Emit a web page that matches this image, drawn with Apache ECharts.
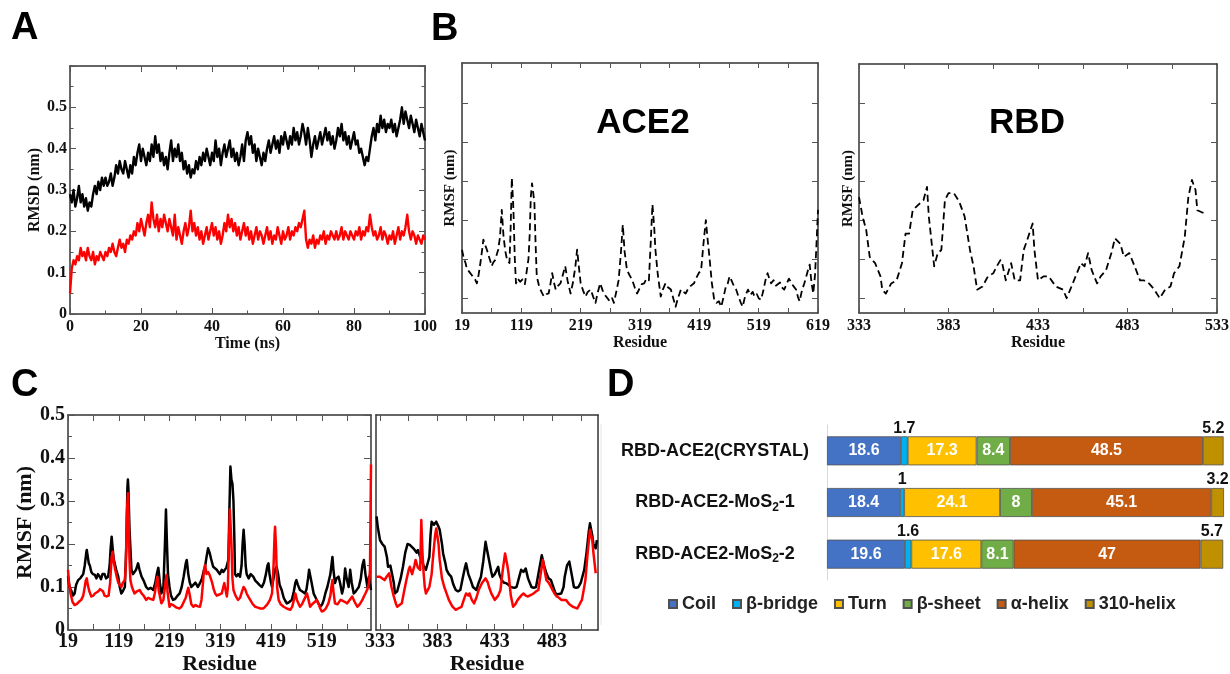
<!DOCTYPE html>
<html><head><meta charset="utf-8">
<script src="https://cdn.jsdelivr.net/npm/echarts@6/dist/echarts.min.js"></script>
<style>html,body{margin:0;padding:0;background:#fff}#c{width:1230px;height:674px}</style>
</head><body><div id="c"></div><script>
// ---------- Panel A: RMSD (nm) vs time, sampled every 0.5 ns ----------
const timeStepNs = 0.5;
const rmsdBlack = [
0.29,0.27,0.30,0.26,0.28,0.31,0.27,0.29,0.26,0.28,
0.25,0.27,0.26,0.29,0.31,0.29,0.32,0.30,0.33,0.31,
0.33,0.31,0.32,0.34,0.31,0.33,0.36,0.34,0.37,0.35,
0.34,0.37,0.35,0.33,0.36,0.34,0.38,0.36,0.39,0.41,
0.37,0.40,0.38,0.36,0.39,0.37,0.41,0.38,0.43,0.39,
0.41,0.37,0.39,0.36,0.38,0.35,0.39,0.42,0.37,0.40,
0.38,0.41,0.37,0.39,0.35,0.37,0.34,0.36,0.33,0.35,
0.34,0.37,0.35,0.38,0.36,0.39,0.37,0.40,0.38,0.36,
0.39,0.37,0.42,0.38,0.40,0.36,0.39,0.41,0.38,0.40,
0.42,0.38,0.40,0.37,0.39,0.36,0.38,0.41,0.37,0.42,
0.44,0.41,0.43,0.39,0.41,0.37,0.40,0.38,0.36,0.39,
0.37,0.40,0.42,0.39,0.41,0.43,0.40,0.42,0.39,0.43,
0.41,0.44,0.42,0.40,0.43,0.41,0.45,0.42,0.44,0.41,
0.43,0.46,0.44,0.41,0.45,0.42,0.38,0.41,0.43,0.40,
0.42,0.44,0.41,0.43,0.45,0.42,0.44,0.41,0.43,0.40,
0.42,0.45,0.43,0.46,0.42,0.44,0.41,0.43,0.40,0.42,
0.44,0.41,0.42,0.39,0.40,0.38,0.36,0.38,0.37,0.40,
0.43,0.45,0.42,0.46,0.44,0.48,0.45,0.47,0.44,0.46,
0.45,0.47,0.44,0.46,0.43,0.45,0.47,0.50,0.46,0.49,
0.47,0.45,0.48,0.46,0.44,0.47,0.45,0.43,0.46,0.44,
0.42];
const rmsdRed = [
0.05,0.11,0.13,0.12,0.14,0.13,0.16,0.14,0.15,0.13,
0.16,0.14,0.13,0.15,0.12,0.14,0.13,0.15,0.14,0.13,
0.15,0.14,0.16,0.15,0.17,0.15,0.14,0.16,0.18,0.16,
0.17,0.15,0.18,0.17,0.19,0.18,0.20,0.19,0.22,0.20,
0.23,0.21,0.19,0.22,0.24,0.21,0.27,0.23,0.21,0.24,
0.20,0.23,0.21,0.24,0.22,0.20,0.23,0.21,0.19,0.24,
0.18,0.21,0.19,0.17,0.20,0.22,0.19,0.21,0.25,0.20,
0.22,0.19,0.21,0.18,0.20,0.17,0.19,0.21,0.18,0.20,
0.22,0.19,0.21,0.18,0.20,0.17,0.19,0.22,0.20,0.24,
0.21,0.23,0.20,0.22,0.19,0.21,0.18,0.20,0.22,0.19,
0.21,0.18,0.20,0.17,0.19,0.21,0.18,0.20,0.19,0.17,
0.19,0.21,0.18,0.20,0.17,0.19,0.18,0.21,0.19,0.17,
0.20,0.18,0.19,0.21,0.18,0.20,0.19,0.21,0.20,0.22,
0.21,0.23,0.25,0.18,0.16,0.18,0.17,0.19,0.16,0.18,
0.17,0.19,0.18,0.20,0.17,0.19,0.18,0.20,0.19,0.18,
0.20,0.18,0.19,0.21,0.18,0.20,0.19,0.18,0.20,0.19,
0.18,0.20,0.19,0.21,0.18,0.20,0.19,0.21,0.20,0.24,
0.21,0.19,0.20,0.18,0.19,0.21,0.18,0.20,0.19,0.17,
0.19,0.18,0.20,0.17,0.19,0.21,0.18,0.20,0.19,0.21,
0.24,0.20,0.18,0.20,0.19,0.17,0.19,0.18,0.17,0.19,
0.18];
const aXTicks = [0, 100, 20];      // min, max, interval
const aYTicks = [0, 0.6, 0.1];

// ---------- Panel B: RMSF, [residue, nm] ----------
const ace2Rmsf = [[19,0.112],[22,0.101],[25,0.095],[27,0.088],[31,0.084],[35,0.080],[38,0.078],[41,0.074],[44,0.069],[47,0.080],[50,0.095],[53,0.112],[55,0.125],[58,0.118],[61,0.112],[64,0.104],[67,0.097],[69,0.091],[72,0.096],[75,0.099],[78,0.107],[80,0.112],[83,0.128],[86,0.163],[89,0.129],[92,0.110],[95,0.099],[99,0.095],[101,0.140],[103,0.204],[105,0.175],[106,0.155],[108,0.100],[110,0.069],[113,0.075],[117,0.071],[121,0.074],[125,0.068],[128,0.069],[131,0.100],[133,0.130],[135,0.180],[137,0.197],[139,0.185],[141,0.172],[143,0.120],[145,0.078],[149,0.065],[153,0.058],[157,0.052],[161,0.055],[165,0.056],[168,0.068],[171,0.082],[174,0.070],[177,0.061],[181,0.066],[185,0.069],[189,0.080],[193,0.091],[197,0.072],[202,0.056],[206,0.070],[210,0.090],[213,0.112],[216,0.090],[219,0.069],[223,0.060],[227,0.052],[231,0.058],[236,0.061],[240,0.052],[244,0.044],[248,0.058],[252,0.069],[256,0.060],[260,0.054],[264,0.050],[268,0.046],[272,0.050],[275,0.044],[279,0.058],[283,0.073],[287,0.110],[290,0.144],[293,0.110],[297,0.086],[301,0.080],[306,0.073],[310,0.064],[314,0.056],[318,0.062],[322,0.068],[326,0.069],[330,0.075],[334,0.073],[337,0.120],[340,0.170],[343,0.140],[345,0.112],[349,0.080],[354,0.052],[358,0.062],[362,0.069],[366,0.064],[371,0.061],[375,0.050],[379,0.039],[383,0.050],[388,0.061],[392,0.058],[396,0.056],[400,0.062],[405,0.066],[410,0.069],[414,0.076],[418,0.082],[422,0.086],[426,0.120],[430,0.150],[433,0.125],[436,0.103],[440,0.070],[444,0.048],[448,0.044],[452,0.046],[456,0.039],[460,0.052],[464,0.066],[467,0.069],[470,0.078],[473,0.073],[477,0.066],[481,0.061],[485,0.052],[489,0.044],[492,0.039],[496,0.052],[501,0.061],[505,0.054],[509,0.058],[512,0.052],[516,0.055],[519,0.050],[523,0.048],[527,0.060],[531,0.075],[534,0.082],[537,0.075],[540,0.069],[544,0.073],[548,0.066],[551,0.065],[555,0.070],[558,0.064],[562,0.061],[566,0.068],[570,0.075],[573,0.073],[577,0.066],[582,0.061],[585,0.052],[588,0.046],[592,0.060],[596,0.069],[600,0.080],[603,0.088],[605,0.093],[608,0.070],[611,0.056],[614,0.080],[616,0.112],[619,0.163]];
const rbdRmsf = [[333,0.180],[335,0.155],[337,0.138],[339,0.103],[342,0.095],[345,0.078],[346,0.061],[348,0.056],[351,0.069],[354,0.073],[357,0.095],[359,0.133],[361,0.133],[363,0.163],[367,0.172],[369,0.176],[371,0.193],[372,0.155],[375,0.091],[377,0.108],[379,0.112],[381,0.176],[383,0.185],[386,0.185],[389,0.174],[392,0.155],[395,0.112],[397,0.091],[399,0.061],[402,0.065],[405,0.078],[408,0.082],[410,0.091],[412,0.099],[413,0.095],[415,0.073],[418,0.095],[420,0.073],[423,0.073],[425,0.112],[427,0.125],[430,0.146],[431,0.112],[433,0.073],[436,0.078],[439,0.078],[443,0.065],[447,0.061],[449,0.050],[451,0.061],[454,0.078],[457,0.095],[459,0.091],[461,0.108],[463,0.086],[466,0.069],[468,0.078],[471,0.086],[474,0.108],[476,0.127],[479,0.120],[481,0.103],[484,0.108],[487,0.091],[490,0.073],[492,0.073],[495,0.069],[498,0.061],[501,0.050],[504,0.061],[507,0.065],[509,0.082],[512,0.091],[515,0.129],[517,0.180],[519,0.202],[521,0.189],[522,0.163],[526,0.159]];
const ace2XLabels = [19,119,219,319,419,519,619];
const ace2XTicks = [19,69,119,169,219,269,319,369,419,469,519,569,619];
const rbdXLabels = [333,383,433,483,533];
const rbdXTicks = [333,358,383,408,433,458,483,508,533];
const bYTicks = [0.05,0.1,0.15,0.2,0.25,0.3];

// ---------- Panel C: RMSF comparison ----------
const cAce2Black = [[19,0.125],[22,0.10],[26,0.09],[29,0.08],[32,0.085],[35,0.105],[39,0.116],[43,0.12],[46,0.125],[49,0.13],[52,0.15],[55,0.18],[56,0.186],[58,0.17],[60,0.155],[62,0.15],[65,0.135],[68,0.13],[72,0.128],[75,0.12],[78,0.13],[81,0.125],[84,0.118],[87,0.13],[91,0.13],[94,0.12],[98,0.124],[101,0.15],[103,0.19],[105,0.217],[107,0.19],[109,0.165],[111,0.163],[114,0.14],[118,0.124],[121,0.10],[124,0.085],[127,0.09],[131,0.10],[134,0.2],[136,0.33],[137,0.35],[138,0.33],[140,0.24],[142,0.19],[144,0.14],[147,0.13],[150,0.135],[153,0.14],[157,0.155],[160,0.14],[164,0.124],[168,0.115],[173,0.10],[177,0.095],[182,0.098],[187,0.093],[191,0.11],[194,0.13],[197,0.145],[200,0.11],[203,0.085],[207,0.1],[210,0.2],[212,0.28],[214,0.2],[216,0.13],[219,0.1],[222,0.08],[226,0.07],[230,0.072],[235,0.08],[239,0.085],[243,0.1],[247,0.125],[251,0.155],[253,0.163],[256,0.13],[259,0.11],[262,0.10],[266,0.105],[270,0.11],[275,0.1],[279,0.109],[283,0.12],[287,0.14],[289,0.147],[292,0.17],[295,0.19],[298,0.18],[301,0.165],[305,0.147],[308,0.15],[312,0.14],[315,0.14],[318,0.13],[322,0.14],[325,0.135],[328,0.136],[331,0.145],[335,0.163],[337,0.28],[339,0.38],[341,0.35],[343,0.34],[345,0.30],[347,0.2],[348,0.13],[351,0.125],[354,0.13],[358,0.124],[361,0.15],[363,0.2],[365,0.233],[367,0.2],[369,0.15],[371,0.13],[375,0.12],[379,0.13],[384,0.124],[388,0.115],[392,0.11],[396,0.105],[401,0.10],[405,0.11],[409,0.13],[412,0.15],[414,0.155],[416,0.13],[419,0.11],[421,0.10],[424,0.12],[427,0.14],[430,0.147],[433,0.13],[436,0.105],[440,0.093],[444,0.075],[447,0.068],[450,0.062],[455,0.065],[460,0.07],[464,0.09],[467,0.11],[469,0.116],[472,0.105],[476,0.093],[480,0.09],[483,0.088],[486,0.085],[489,0.095],[492,0.12],[494,0.14],[496,0.143],[499,0.11],[503,0.085],[507,0.075],[511,0.065],[516,0.054],[520,0.06],[523,0.07],[526,0.085],[530,0.1],[533,0.115],[536,0.13],[538,0.15],[540,0.17],[542,0.14],[545,0.109],[548,0.12],[552,0.124],[555,0.11],[559,0.085],[562,0.1],[565,0.143],[568,0.12],[572,0.10],[575,0.14],[578,0.11],[582,0.085],[586,0.09],[589,0.095],[592,0.10],[596,0.12],[599,0.15],[602,0.163],[605,0.13],[609,0.10],[612,0.124],[616,0.093]];
const cAce2Red = [[19,0.14],[21,0.11],[24,0.085],[28,0.065],[32,0.058],[36,0.06],[40,0.065],[45,0.07],[49,0.08],[52,0.1],[54,0.115],[56,0.12],[58,0.105],[61,0.09],[65,0.078],[69,0.08],[72,0.085],[75,0.085],[79,0.09],[82,0.095],[85,0.093],[88,0.09],[91,0.08],[95,0.078],[99,0.08],[102,0.11],[105,0.17],[107,0.182],[109,0.16],[112,0.14],[115,0.124],[118,0.11],[121,0.105],[124,0.10],[127,0.11],[131,0.116],[133,0.15],[135,0.27],[137,0.318],[139,0.25],[140,0.17],[142,0.116],[145,0.1],[150,0.085],[155,0.09],[160,0.093],[164,0.085],[168,0.08],[173,0.07],[177,0.075],[182,0.072],[187,0.07],[190,0.085],[193,0.11],[195,0.124],[198,0.09],[203,0.062],[207,0.07],[210,0.1],[213,0.128],[215,0.09],[219,0.054],[222,0.06],[226,0.058],[229,0.054],[233,0.052],[239,0.05],[243,0.055],[247,0.065],[251,0.075],[254,0.09],[256,0.098],[259,0.08],[262,0.06],[266,0.054],[270,0.058],[275,0.055],[279,0.054],[282,0.07],[285,0.11],[287,0.14],[289,0.151],[292,0.13],[295,0.135],[298,0.128],[300,0.13],[303,0.11],[306,0.095],[309,0.085],[312,0.08],[316,0.082],[319,0.078],[322,0.085],[325,0.1],[327,0.109],[330,0.09],[332,0.078],[334,0.1],[336,0.2],[338,0.28],[339,0.283],[341,0.2],[343,0.12],[345,0.093],[349,0.08],[354,0.07],[358,0.075],[362,0.09],[365,0.10],[368,0.095],[371,0.085],[374,0.078],[378,0.07],[383,0.06],[388,0.054],[393,0.052],[398,0.05],[404,0.05],[408,0.055],[412,0.06],[417,0.07],[421,0.085],[424,0.15],[426,0.22],[427,0.24],[429,0.19],[431,0.1],[434,0.07],[438,0.06],[444,0.054],[450,0.05],[457,0.047],[461,0.055],[464,0.07],[467,0.085],[470,0.07],[476,0.054],[480,0.06],[484,0.07],[488,0.08],[490,0.085],[493,0.07],[496,0.054],[500,0.06],[505,0.065],[509,0.07],[513,0.06],[516,0.05],[519,0.043],[523,0.045],[527,0.05],[532,0.062],[536,0.08],[538,0.1],[540,0.116],[542,0.09],[545,0.062],[550,0.06],[556,0.07],[560,0.068],[565,0.065],[569,0.062],[574,0.07],[579,0.078],[584,0.065],[589,0.054],[594,0.06],[599,0.07],[602,0.078],[605,0.085],[609,0.095],[612,0.109],[614,0.14],[616,0.385]];
const cRbdBlack = [[330,0.264],[331,0.24],[333,0.209],[335,0.2],[337,0.194],[339,0.17],[340,0.147],[342,0.15],[343,0.147],[345,0.11],[346,0.085],[348,0.09],[349,0.093],[351,0.12],[353,0.147],[355,0.18],[357,0.2],[359,0.198],[360,0.2],[362,0.19],[363,0.186],[365,0.18],[366,0.186],[368,0.17],[369,0.163],[371,0.15],[373,0.14],[375,0.16],[376,0.17],[377,0.22],[378,0.252],[380,0.245],[382,0.252],[384,0.24],[385,0.233],[387,0.2],[388,0.178],[390,0.155],[391,0.14],[393,0.13],[395,0.124],[397,0.105],[399,0.093],[401,0.09],[403,0.093],[405,0.12],[407,0.145],[408,0.155],[410,0.13],[412,0.116],[414,0.1],[417,0.093],[419,0.11],[421,0.124],[423,0.16],[425,0.205],[426,0.19],[428,0.163],[430,0.135],[431,0.124],[433,0.13],[436,0.147],[437,0.13],[439,0.116],[441,0.11],[443,0.109],[445,0.105],[447,0.1],[450,0.098],[452,0.1],[454,0.12],[456,0.14],[458,0.135],[460,0.143],[462,0.12],[465,0.1],[467,0.098],[469,0.1],[471,0.13],[474,0.174],[476,0.15],[478,0.132],[480,0.12],[482,0.116],[484,0.1],[486,0.085],[488,0.083],[491,0.085],[493,0.1],[494,0.124],[496,0.15],[498,0.159],[500,0.13],[502,0.1],[504,0.098],[506,0.1],[508,0.11],[511,0.14],[513,0.18],[515,0.23],[516,0.248],[518,0.22],[519,0.2],[521,0.19],[522,0.209]];
const cRbdRed = [[330,0.124],[333,0.124],[335,0.12],[337,0.116],[339,0.125],[341,0.132],[343,0.1],[345,0.078],[347,0.06],[348,0.054],[350,0.058],[352,0.062],[354,0.09],[356,0.116],[358,0.14],[359,0.147],[361,0.13],[362,0.132],[363,0.15],[364,0.163],[366,0.145],[368,0.14],[369,0.256],[370,0.18],[371,0.132],[372,0.1],[373,0.085],[375,0.095],[376,0.1],[378,0.13],[379,0.163],[381,0.22],[382,0.236],[384,0.2],[385,0.163],[387,0.12],[389,0.1],[391,0.085],[393,0.07],[396,0.055],[399,0.047],[401,0.05],[404,0.054],[406,0.07],[408,0.085],[410,0.08],[411,0.085],[413,0.07],[415,0.062],[417,0.075],[419,0.093],[422,0.11],[425,0.12],[427,0.11],[428,0.1],[430,0.085],[433,0.07],[436,0.08],[438,0.093],[440,0.14],[442,0.178],[444,0.15],[445,0.132],[447,0.08],[449,0.054],[451,0.06],[453,0.07],[456,0.08],[458,0.085],[460,0.08],[462,0.078],[465,0.082],[467,0.085],[469,0.09],[471,0.093],[473,0.13],[475,0.163],[477,0.13],[478,0.116],[480,0.11],[482,0.1],[485,0.085],[487,0.078],[489,0.075],[491,0.07],[493,0.07],[495,0.07],[498,0.06],[501,0.054],[503,0.052],[505,0.05],[507,0.06],[509,0.07],[511,0.1],[512,0.116],[514,0.18],[516,0.233],[518,0.209],[519,0.18],[521,0.132]];
const cAce2XLabels = [19,119,219,319,419,519];
const cAce2XTicks = [19,69,119,169,219,269,319,369,419,469,519,569];
const cRbdXLabels = [333,383,433,483];
const cRbdXTicks = [333,358,383,408,433,458,483,508];

// ---------- Panel D: secondary structure (%) ----------
const dCategories = ['RBD-ACE2(CRYSTAL)', 'RBD-ACE2-MoS2-1', 'RBD-ACE2-MoS2-2'];
const dNames = ['Coil', 'β-bridge', 'Turn', 'β-sheet', 'α-helix', '310-helix'];
const dCoil   = [18.6, 18.4, 19.6];
const dBridge = [1.7, 1, 1.6];
const dTurn   = [17.3, 24.1, 17.6];
const dSheet  = [8.4, 8, 8.1];
const dAlpha  = [48.5, 45.1, 47];
const d310    = [5.2, 3.2, 5.7];
const dColors = ['#4472C4', '#00B0F0', '#FFC000', '#70AD47', '#C55A11', '#BF9000'];

// ======================================================================
const SERIF = 'Liberation Serif';
const SANS = 'Liberation Sans';
const FRAME = '#333';

function frameAxis(grid, pos, min, max, extra) {
  const base = {
    type: 'value', gridIndex: grid, position: pos, min: min, max: max,
    axisLine: { show: true, onZero: false, lineStyle: { color: FRAME, width: 1.5 } },
    axisTick: { show: false },
    axisLabel: { show: false },
    splitLine: { show: false },
    minorTick: { show: false },
    minorSplitLine: { show: false }
  };
  return Object.assign(base, extra || {});
}
function tick(len, customValues) {
  const t = { show: true, inside: true, length: len, lineStyle: { color: '#555', width: 1 } };
  if (customValues) t.customValues = customValues;
  return t;
}
function minor(len) {
  return { show: true, splitNumber: 2, length: len, lineStyle: { color: '#555', width: 1 } };
}
function lbl(size, margin, extra) {
  return Object.assign({ show: true, color: '#111', fontFamily: SERIF, fontWeight: 'bold', fontSize: size, margin: margin }, extra || {});
}
function nameStyle(size) {
  return { color: '#111', fontFamily: SERIF, fontWeight: 'bold', fontSize: size };
}

const grids = [
  { left: 70, top: 66, width: 355, height: 248 },   // 0 A
  { left: 462, top: 63, width: 356, height: 250 },  // 1 B ACE2
  { left: 859, top: 64, width: 358, height: 249 },  // 2 B RBD
  { left: 68, top: 415, width: 303, height: 215 },  // 3 C ACE2
  { left: 376, top: 415, width: 222, height: 215 }, // 4 C RBD
  { left: 827, top: 425, width: 397, height: 155 }  // 5 D
].map(g => Object.assign({ containLabel: false, outerBoundsMode: 'none' }, g));

const xAxes = [], yAxes = [];
// A
xAxes.push(frameAxis(0, 'bottom', aXTicks[0], aXTicks[1], { interval: aXTicks[2],
  axisTick: tick(6), minorTick: minor(3.5), axisLabel: lbl(16, 5),
  name: 'Time (ns)', nameLocation: 'middle', nameGap: 20, nameTextStyle: nameStyle(16) }));           // 0
xAxes.push(frameAxis(0, 'top', aXTicks[0], aXTicks[1], { interval: aXTicks[2], axisTick: tick(6), minorTick: minor(3.5) })); // 1
yAxes.push(frameAxis(0, 'left', aYTicks[0], aYTicks[1], { interval: aYTicks[2],
  axisTick: tick(6), minorTick: minor(3.5),
  axisLabel: lbl(16, 3, { formatter: v => v > 0.55 ? '' : (v === 0 ? '0' : v.toFixed(1)) }),
  name: 'RMSD (nm)', nameLocation: 'middle', nameGap: 24, nameTextStyle: nameStyle(16) }));           // 0
yAxes.push(frameAxis(0, 'right', aYTicks[0], aYTicks[1], { interval: aYTicks[2], axisTick: tick(6), minorTick: minor(3.5) })); // 1
// B ACE2
xAxes.push(frameAxis(1, 'bottom', 19, 619, { axisTick: tick(5, ace2XTicks),
  axisLabel: lbl(16, 5, { customValues: ace2XLabels }),
  name: 'Residue', nameLocation: 'middle', nameGap: 20, nameTextStyle: nameStyle(16) }));             // 2
xAxes.push(frameAxis(1, 'top', 19, 619, { axisTick: tick(5, ace2XTicks) }));                          // 3
yAxes.push(frameAxis(1, 'left', 0.031, 0.351, { axisTick: tick(6, bYTicks),
  name: 'RMSF (nm)', nameLocation: 'middle', nameGap: 4, nameTextStyle: nameStyle(15) }));           // 2
yAxes.push(frameAxis(1, 'right', 0.031, 0.351, { axisTick: tick(6, bYTicks) }));                      // 3
// B RBD
xAxes.push(frameAxis(2, 'bottom', 333, 533, { axisTick: tick(5, rbdXTicks),
  axisLabel: lbl(16, 5, { customValues: rbdXLabels }),
  name: 'Residue', nameLocation: 'middle', nameGap: 20, nameTextStyle: nameStyle(16) }));             // 4
xAxes.push(frameAxis(2, 'top', 333, 533, { axisTick: tick(5, rbdXTicks) }));                          // 5
yAxes.push(frameAxis(2, 'left', 0.031, 0.351, { axisTick: tick(6, bYTicks),
  name: 'RMSF (nm)', nameLocation: 'middle', nameGap: 3, nameTextStyle: nameStyle(15) }));           // 4
yAxes.push(frameAxis(2, 'right', 0.031, 0.351, { axisTick: tick(6, bYTicks) }));                      // 5
// C ACE2
xAxes.push(frameAxis(3, 'bottom', 19, 616, { axisTick: tick(6, cAce2XTicks),
  axisLabel: lbl(20, 2, { customValues: cAce2XLabels }),
  name: 'Residue', nameLocation: 'middle', nameGap: 17, nameTextStyle: nameStyle(22) }));             // 6
xAxes.push(frameAxis(3, 'top', 19, 616, { axisTick: tick(6, cAce2XTicks) }));                         // 7
yAxes.push(frameAxis(3, 'left', 0, 0.5, { interval: 0.1, axisTick: tick(7), minorTick: minor(4),
  axisLabel: lbl(20, 3, { formatter: v => v === 0 ? '0' : v.toFixed(1) }),
  name: 'RMSF (nm)', nameLocation: 'middle', nameGap: 30, nameTextStyle: nameStyle(22) }));          // 6
yAxes.push(frameAxis(3, 'right', 0, 0.5, { interval: 0.1, axisTick: tick(7), minorTick: minor(4) })); // 7
// C RBD
xAxes.push(frameAxis(4, 'bottom', 329.5, 523, { axisTick: tick(6, cRbdXTicks),
  axisLabel: lbl(20, 2, { customValues: cRbdXLabels }),
  name: 'Residue', nameLocation: 'middle', nameGap: 17, nameTextStyle: nameStyle(22) }));             // 8
xAxes.push(frameAxis(4, 'top', 329.5, 523, { axisTick: tick(6, cRbdXTicks) }));                       // 9
yAxes.push(frameAxis(4, 'left', 0, 0.5, { interval: 0.1 }));                                          // 8
yAxes.push(frameAxis(4, 'right', 0, 0.5, { interval: 0.1 }));                                         // 9
// D
xAxes.push({ type: 'value', gridIndex: 5, min: 0, max: 99.8, show: false });                          // 10
yAxes.push({ type: 'category', gridIndex: 5, inverse: true, data: dCategories,
  axisLine: { show: true, lineStyle: { color: '#d9d9d9', width: 1 } },
  axisTick: { show: false }, splitLine: { show: false },
  axisLabel: { show: true, align: 'center', margin: 112, color: '#111', fontFamily: SANS, fontWeight: 'bold',
    fontSize: 18, lineHeight: 22,
    formatter: s => s.replace('MoS2', 'MoS{s|2}'),
    rich: { s: { fontFamily: SANS, fontWeight: 'bold', fontSize: 12, lineHeight: 12, verticalAlign: 'bottom', color: '#111' } } } }); // 10

function lineS(xi, yi, data, color, width, dash, z) {
  return { type: 'line', xAxisIndex: xi, yAxisIndex: yi, data: data, showSymbol: false, symbol: 'none',
    smooth: false, silent: true, z: z || 2,
    lineStyle: { color: color, width: width, type: dash || 'solid', join: 'round' } };
}
const series = [
  lineS(0, 0, rmsdBlack.map((v, i) => [i * timeStepNs, v]), '#000', 2.4),
  lineS(0, 0, rmsdRed.map((v, i) => [i * timeStepNs, v]), '#ff0000', 2.4, null, 3),
  lineS(2, 2, ace2Rmsf, '#000', 1.8, [7, 4]),
  lineS(4, 4, rbdRmsf, '#000', 1.8, [7, 4]),
  lineS(6, 6, cAce2Black, '#000', 2.5),
  lineS(6, 6, cAce2Red, '#ff0000', 2.5, null, 3),
  lineS(8, 8, cRbdBlack, '#000', 2.5),
  lineS(8, 8, cRbdRed, '#ff0000', 2.5, null, 3)
];
const dData = [dCoil, dBridge, dTurn, dSheet, dAlpha, d310];
dNames.forEach((n, k) => {
  const outside = (k === 1 || k === 5);
  series.push({
    type: 'bar', name: n, stack: 'ss', xAxisIndex: 10, yAxisIndex: 10, barWidth: 29,
    data: dData[k], itemStyle: { color: dColors[k], borderColor: '#505050', borderWidth: 0.8 },
    label: { show: true, position: outside ? 'top' : 'inside', distance: 0,
      color: outside ? '#111' : '#fff', fontFamily: SANS, fontWeight: 'bold', fontSize: 16,
      formatter: p => String(p.value) },
    emphasis: { disabled: true }
  });
});

function gtext(x, y, text, size, align) {
  return { type: 'text', x: x, y: y, silent: true,
    style: { text: text, fontFamily: SANS, fontWeight: 'bold', fontSize: size, fill: '#000',
      textAlign: align || 'left', textVerticalAlign: 'middle' } };
}

const chart = echarts.init(document.getElementById('c'), null, { renderer: 'canvas' });
chart.setOption({
  animation: false,
  backgroundColor: '#fff',
  grid: grids, xAxis: xAxes, yAxis: yAxes, series: series,
  legend: { data: dNames, left: 668, top: 595, padding: 0, icon: 'rect', itemWidth: 8, itemHeight: 8, itemGap: 16,
    textStyle: { fontFamily: SANS, fontWeight: 'bold', fontSize: 18, color: '#222' }, selectedMode: false },
  graphic: [
    gtext(11, 29, 'A', 38), gtext(431, 30, 'B', 38), gtext(11, 386, 'C', 38), gtext(607, 386, 'D', 38),
    gtext(643, 123, 'ACE2', 35, 'center'), gtext(1027, 123, 'RBD', 35, 'center'),
    { type: 'line', silent: true, shape: { x1: 601, y1: 424, x2: 601, y2: 625 }, style: { stroke: '#e6e6e6', lineWidth: 1 } }
  ]
});
</script></body></html>
